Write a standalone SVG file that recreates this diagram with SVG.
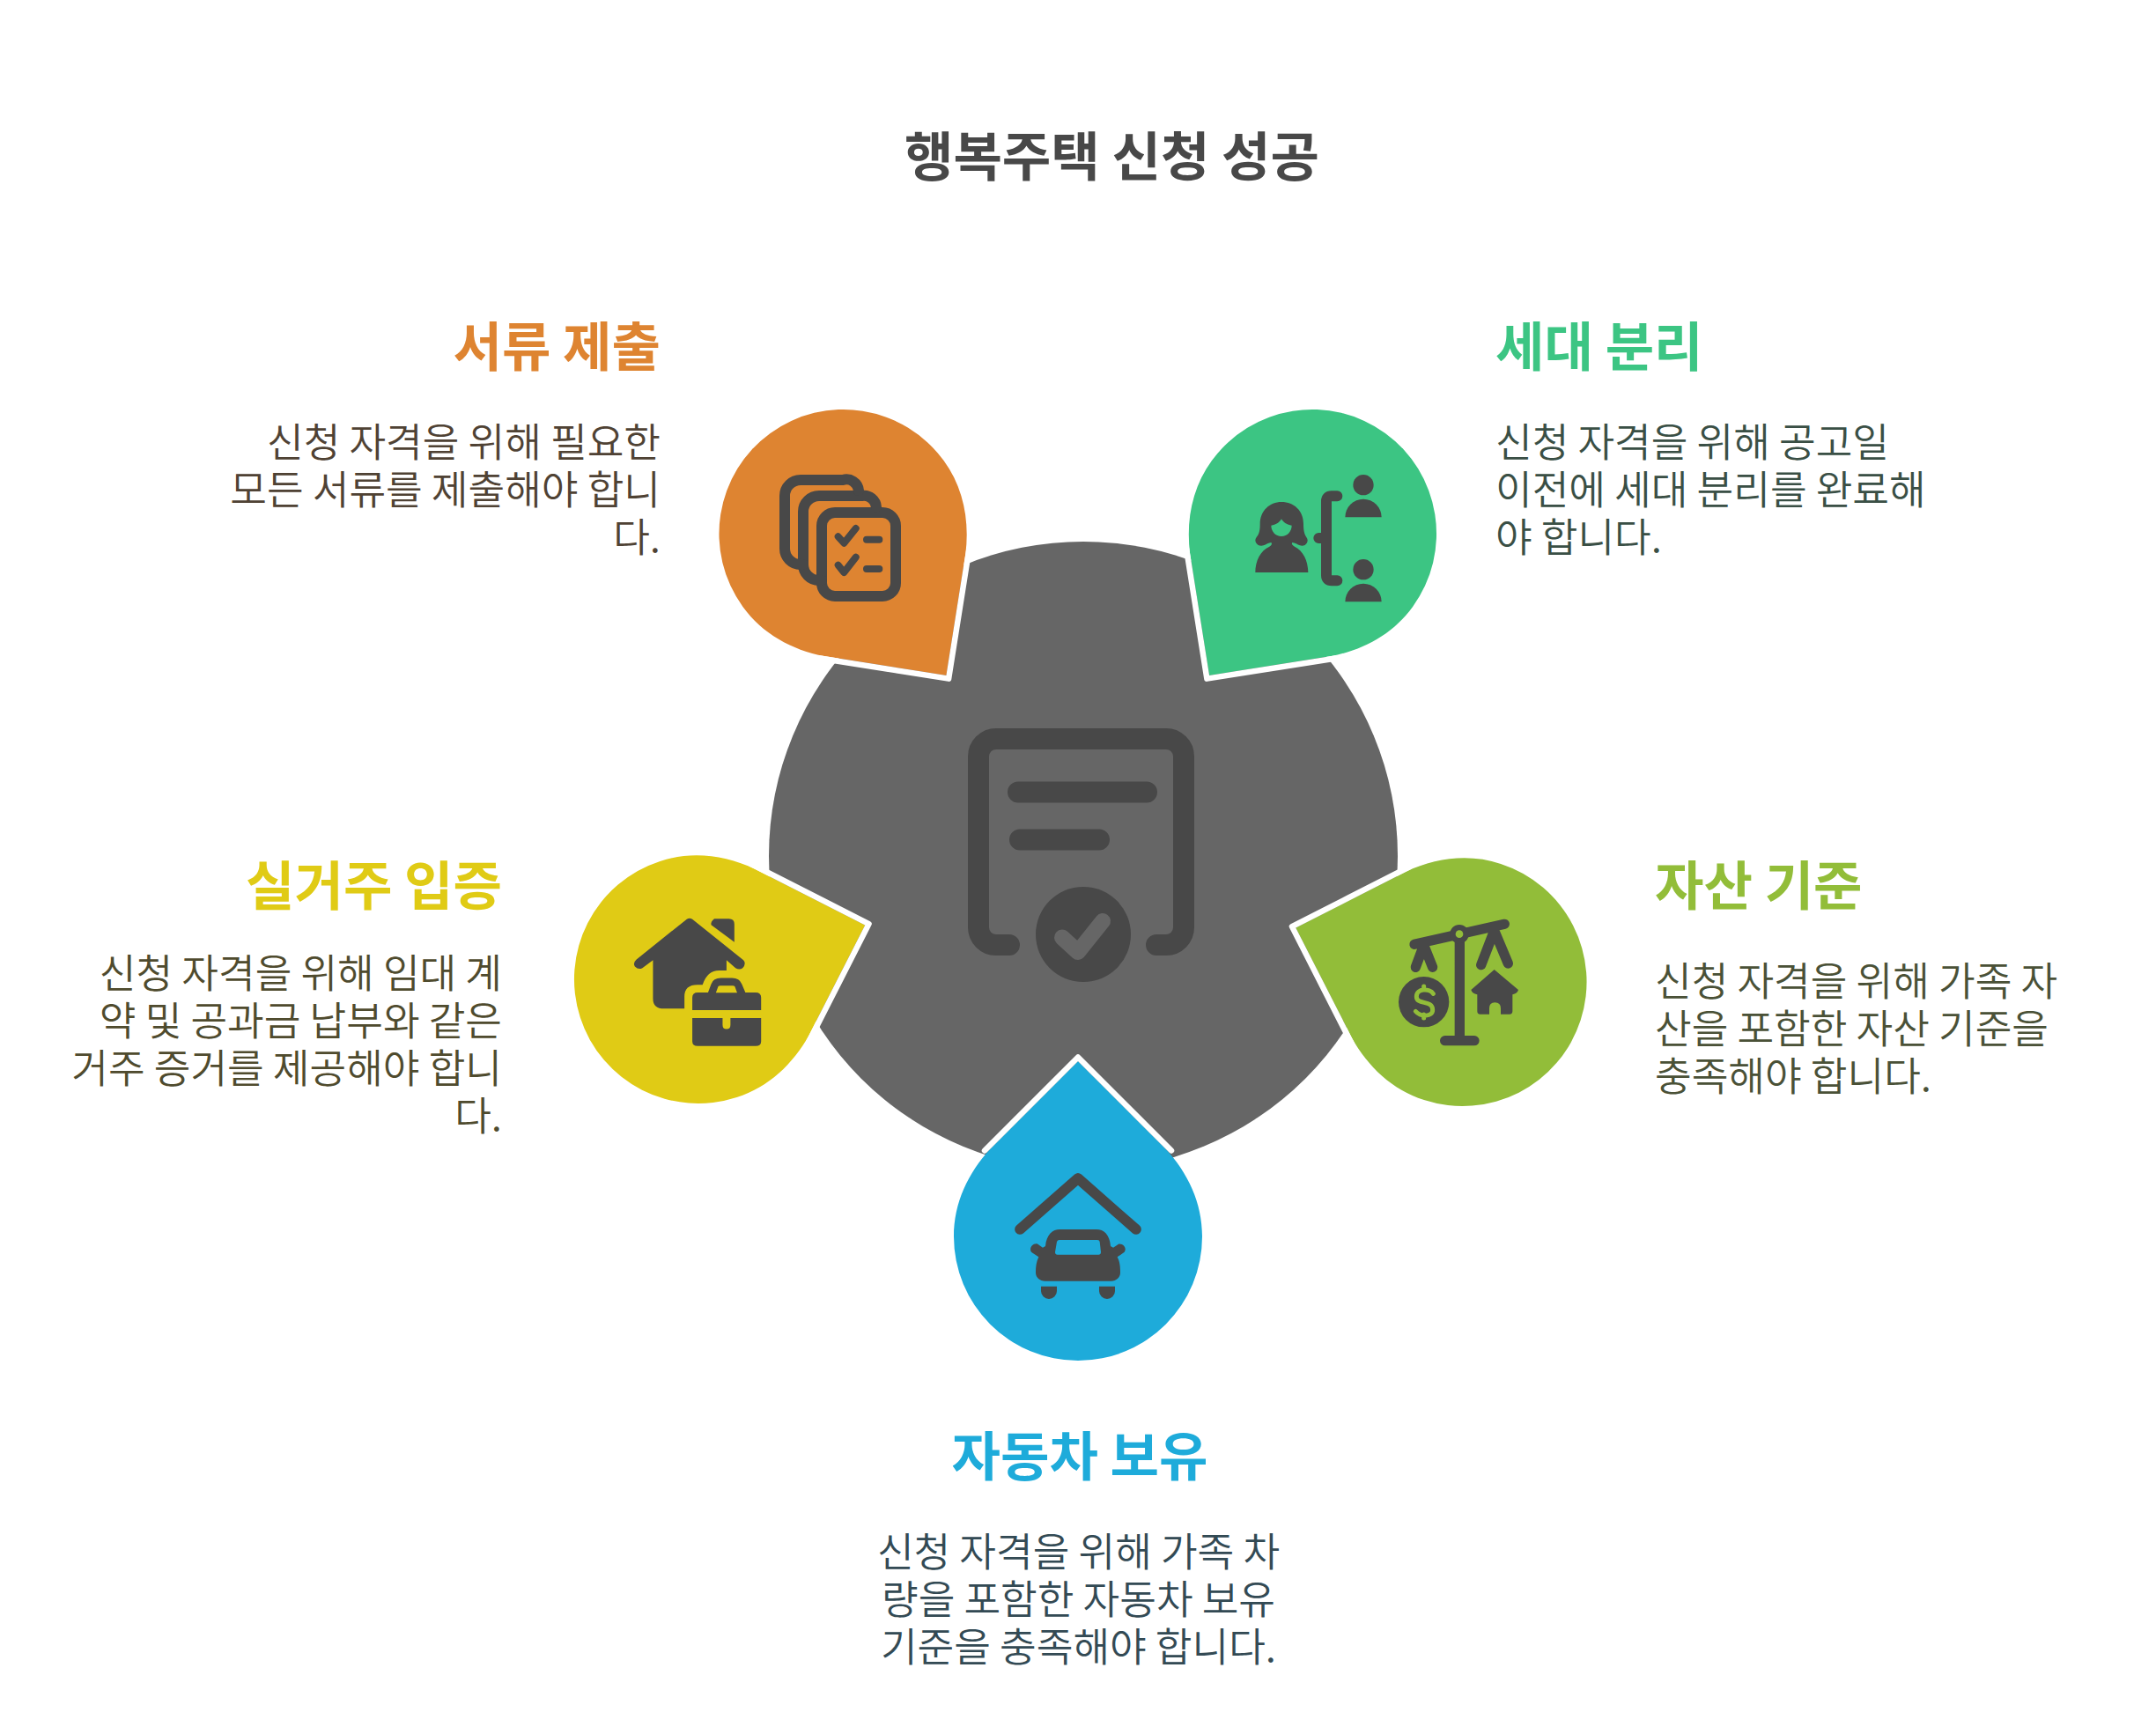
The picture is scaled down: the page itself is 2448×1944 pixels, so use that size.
<svg xmlns="http://www.w3.org/2000/svg" width="2448" height="1944" viewBox="0 0 2448 1944">
<style>
text{font-family:"Noto Sans CJK KR","Noto Sans",sans-serif}
.h{font-size:60.3px;font-weight:700}
.b{font-size:45.3px;font-weight:350}
.e{text-anchor:end}.m{text-anchor:middle}
.ic{fill:#484848}
.st{fill:none;stroke:#484848;stroke-linecap:round;stroke-linejoin:round}
.edge{fill:none;stroke:#fff;stroke-width:6.5;stroke-linecap:round;stroke-linejoin:round}
</style>
<defs>
<path id="drop" d="M0,-199 L99,-100 C125,-72 141,-38 141,0 A141,141 0 1 1 -141,0 C-141,-38 -125,-72 -99,-100 Z"/>
<path id="edge" d="M-106,-97.5 L0,-203.5 L106,-97.5"/>
</defs>
<rect width="2448" height="1944" fill="#fff"/>
<text id="title" class="h m" x="1262.5" y="200" fill="#484848">행복주택 신청 성공</text>

<g id="center">
<circle cx="1230" cy="972" r="357" fill="#666666"/>
<path class="st" stroke-width="24" d="M1146,1073 H1131 A20,20 0 0 1 1111,1053 V859 A20,20 0 0 1 1131,839 H1324 A20,20 0 0 1 1344,859 V1053 A20,20 0 0 1 1324,1073 H1313"/>
<path class="st" stroke-width="24" d="M1156,899.5 H1302 M1158,953.5 H1248"/>
<circle class="ic" cx="1230" cy="1061" r="54"/>
<path d="M1206,1064.5 L1224,1081 L1252,1046" fill="none" stroke="#666666" stroke-width="18" stroke-linecap="round" stroke-linejoin="round"/>
</g>

<g id="node-documents">
<g transform="translate(957.5,606) rotate(144)"><use href="#drop" fill="#de8431"/><use href="#edge" class="edge"/></g>
<g class="st" stroke-width="12">
<rect x="933" y="582" width="84" height="95" rx="15"/>
<path d="M995,576 A14,14 0 0 0 979,563 H930 A18,18 0 0 0 912,581 V641 A18,18 0 0 0 930,659 H933"/>
<path d="M975,557 A14,14 0 0 0 957,545 H909 A18,18 0 0 0 891,563 V623 A18,18 0 0 0 909,641 H912"/>
</g>
<path class="st" stroke-width="8" d="M951.7,609.3 L958.3,616.7 L971.7,600 M984,612.7 H998.3 M951.7,641.7 L958.3,650 L971.7,632.7 M984,646 H998.3"/>
<text class="h e" x="750" y="416" fill="#de8431">서류 제출</text>
<g fill="#4f4234"><text x="750" y="519" class="b e">신청 자격을 위해 필요한</text><text x="750" y="573" class="b e">모든 서류를 제출해야 합니</text><text x="750" y="627" class="b e">다.</text></g>
</g>

<g id="node-household">
<g transform="translate(1490,606) rotate(-144)"><use href="#drop" fill="#3cc583"/><use href="#edge" class="edge"/></g>
<g transform="translate(1410,530) scale(0.33333)">
<path class="ic" fill-rule="evenodd" d="M135,120 C178,120 210,150 210,195 C210,215 212,228 220,240 C232,255 215,275 198,268 C190,265 180,258 172,258 C168,262 172,268 180,272 C208,285 226,320 226,360 L46,360 C46,320 64,285 94,272 C102,268 104,262 100,258 C92,258 82,265 74,268 C56,275 38,255 50,240 C60,228 62,215 62,195 C62,150 95,120 135,120 Z M100,200 C115,198 128,190 135,178 C142,190 155,198 170,200 C170,220 155,237 135,237 C115,237 100,220 100,200 Z"/>
<path class="st" stroke-width="36" d="M325,100 H306 Q288,100 288,118 V370 Q288,388 306,388 H325 M262,243 H288"/>
<circle class="ic" cx="414" cy="62" r="35"/><path class="ic" d="M352,172 A62,62 0 0 1 476,172 Z"/>
<circle class="ic" cx="414" cy="350" r="35"/><path class="ic" d="M352,460 A62,62 0 0 1 476,460 Z"/>
</g>
<text class="h" x="1698" y="416" fill="#3cc583">세대 분리</text>
<g fill="#3a4f45"><text x="1698" y="519" class="b">신청 자격을 위해 공고일</text><text x="1698" y="573" class="b">이전에 세대 분리를 완료해</text><text x="1698" y="627" class="b">야 합니다.</text></g>
</g>

<g id="node-residence">
<g transform="translate(793,1112) rotate(72)"><use href="#drop" fill="#e0cb15"/><use href="#edge" class="edge"/></g>
<g transform="translate(620,940) scale(0.44643,0.40816)">
<path class="ic" d="M358,254 Q365,250 372,254 L502,368 Q510,378 500,390 Q492,396 482,390 L459,368 V397 H440 Q410,397 398,437 H385 Q352,437 352,470 V503 H300 Q272,503 272,475 V368 L245,390 Q235,396 226,386 Q220,376 230,366 Z"/>
<path class="ic" d="M420,270 Q418,262 428,253 H465 Q479,253 479,268 V318 Z"/>
<path class="ic" fill-rule="evenodd" d="M372,472 Q372,458 386,458 H412 L420,435 Q425,418 445,418 H473 Q492,418 498,435 L507,458 H533 Q547,458 547,472 V507 H372 Z M432,459 H486 L480,441 Q478,439 475,439 H443 Q440,439 438,441 Z"/>
<path class="ic" d="M372,529 H449 V548 Q449,560 459,560 Q469,560 469,548 V529 H547 V594 Q547,607 533,607 H386 Q372,607 372,594 Z"/>
</g>
<text class="h e" x="570" y="1028" fill="#e0cb15">실거주 입증</text>
<g fill="#4f4b2e"><text x="570" y="1122" class="b e">신청 자격을 위해 임대 계</text><text x="570" y="1176" class="b e">약 및 공과금 납부와 같은</text><text x="570" y="1230" class="b e">거주 증거를 제공해야 합니</text><text x="570" y="1284" class="b e">다.</text></g>
</g>

<g id="node-car">
<g transform="translate(1224,1404)"><use href="#drop" fill="#1eabda"/><use href="#edge" class="edge"/></g>
<g transform="translate(1040,1180) scale(0.33333)">
<path class="st" stroke-width="35" d="M354,648 L552,474 L750,648"/>
<path class="ic" fill-rule="evenodd" d="M441,705 C445,665 465,648 490,648 H615 C640,648 660,665 663,705 L672,710 L690,698 C705,695 720,712 710,725 L686,742 C695,760 696,775 696,795 C696,812 682,824 665,824 H440 C422,824 408,812 408,795 C408,775 410,760 418,742 L395,727 C382,715 398,692 415,698 L432,710 Z M480,690 Q482,684 488,684 H618 Q625,684 626,690 L630,725 Q630,734 622,734 H482 Q474,734 474,725 Z"/>
<path class="ic" d="M426,842 H480 V858 A27,27 0 0 1 426,858 Z M624,842 H678 V858 A27,27 0 0 1 624,858 Z"/>
</g>
<text class="h m" x="1226" y="1676" fill="#1eabda">자동차 보유</text>
<g fill="#334a54"><text x="1224.5" y="1779" class="b m">신청 자격을 위해 가족 차</text><text x="1224.5" y="1833" class="b m">량을 포함한 자동차 보유</text><text x="1224.5" y="1887" class="b m">기준을 충족해야 합니다.</text></g>
</g>

<g id="node-assets">
<g transform="translate(1660.5,1115) rotate(-72)"><use href="#drop" fill="#92bd39"/><use href="#edge" class="edge"/></g>
<g transform="translate(1400,950) scale(0.33333)">
<path class="st" stroke-width="34" d="M618,367 L925,298 M772,340 V695 M722,695 H822 M622,445 L650,370 L680,445 M845,437 L890,320 L937,432"/>
<circle class="ic" cx="771" cy="332" r="32"/><circle cx="771" cy="332" r="13" fill="#92bd39"/>
<circle class="ic" cx="650" cy="563" r="86"/>
<path d="M682,535 C670,517 625,515 625,545 C625,575 680,555 680,590 C680,615 640,615 622,595 M650,510 V522 M650,606 V618" fill="none" stroke="#92bd39" stroke-width="15" stroke-linecap="round"/>
<path class="ic" d="M890,453 L972,522 Q968,535 952,538 V595 Q952,605 942,605 H912 V585 Q912,565 892,565 Q873,565 873,585 V605 H842 Q832,605 832,595 V538 Q815,535 811,522 Z"/>
</g>
<text class="h" x="1879" y="1028" fill="#92bd39">자산 기준</text>
<g fill="#4a5137"><text x="1879" y="1131" class="b">신청 자격을 위해 가족 자</text><text x="1879" y="1185" class="b">산을 포함한 자산 기준을</text><text x="1879" y="1239" class="b">충족해야 합니다.</text></g>
</g>
</svg>
